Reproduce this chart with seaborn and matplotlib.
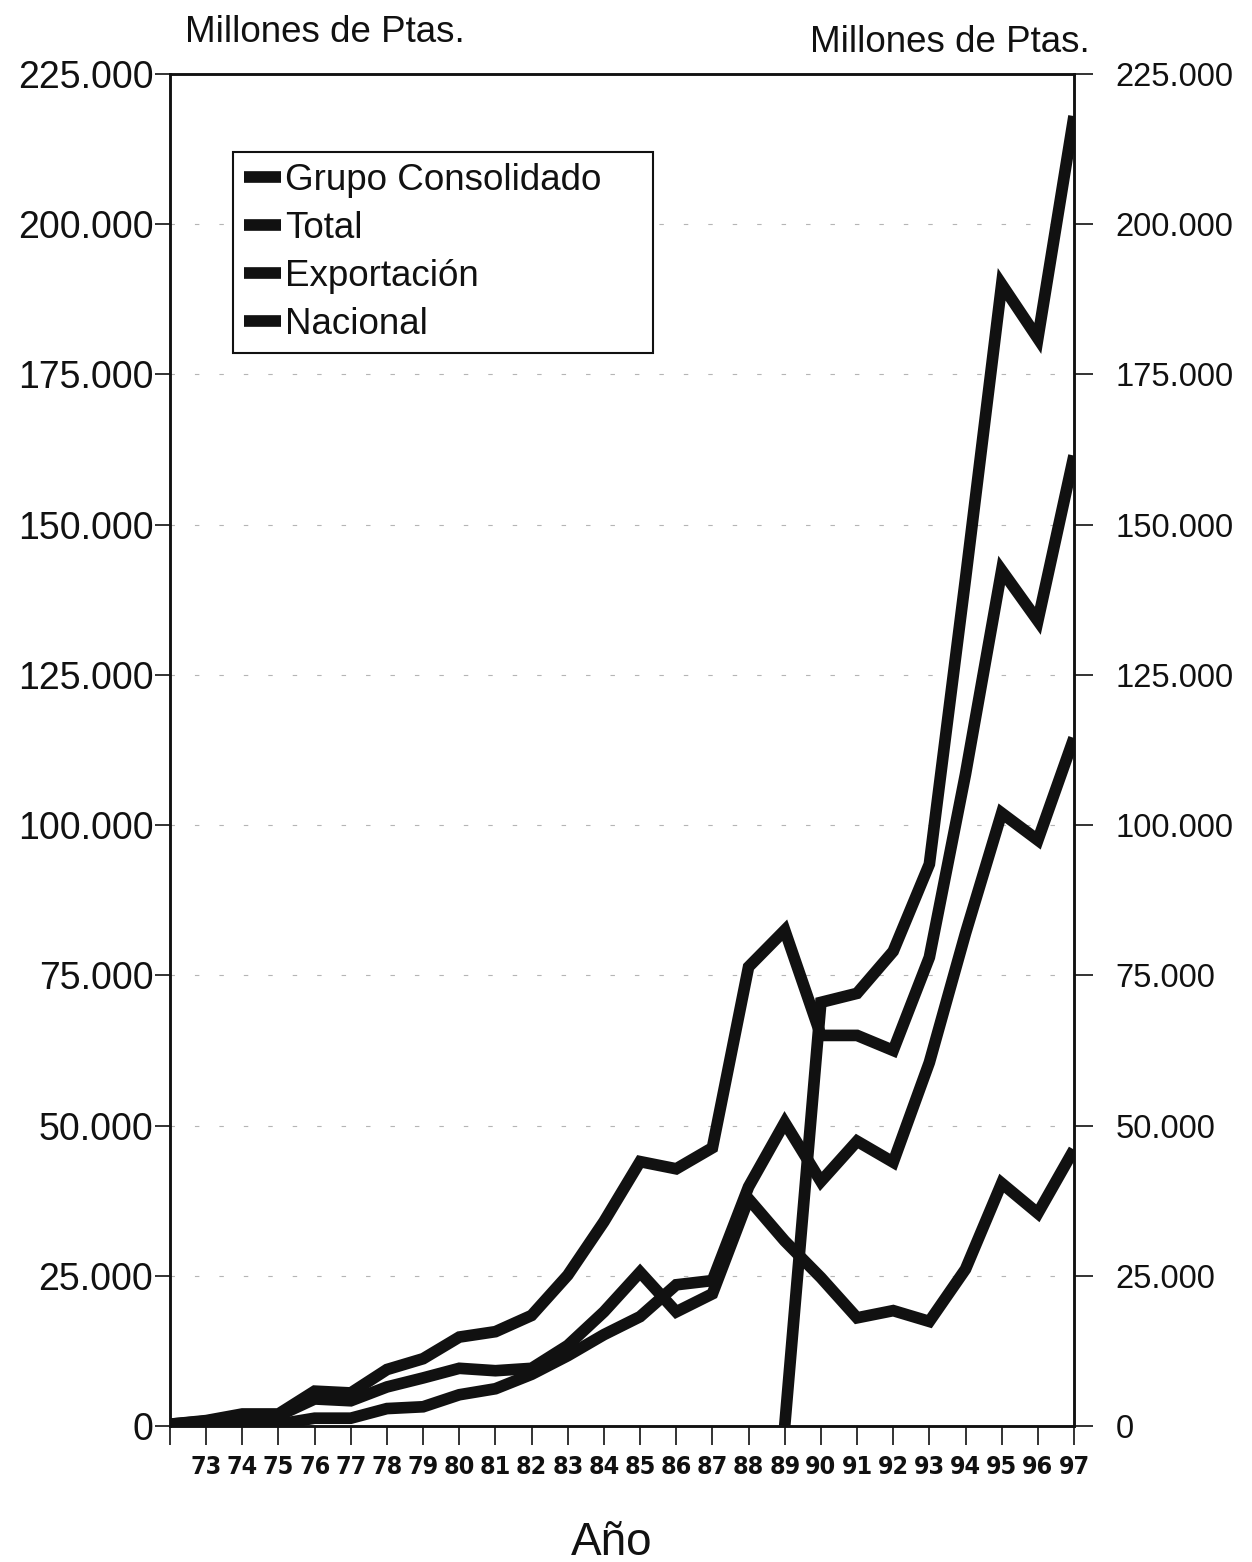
import numpy as np
import pandas as pd
import matplotlib
matplotlib.use("Agg")
import matplotlib.pyplot as plt
import seaborn as sns
from matplotlib import font_manager as fm
from matplotlib.ticker import FuncFormatter

# ---------------- data (millones de pesetas) ----------------
years = list(range(72, 98))
series_names = ["Grupo Consolidado", "Total", "Exportación", "Nacional"]

grupo = [np.nan] * 17 + [0, 70500, 72000, 79000, 93500, 141000, 190000, 181000, 218000]
total = [300, 900, 2000, 2000, 5800, 5500, 9400, 11200, 14800, 15700, 18400, 25100, 34000,
         44000, 42800, 46300, 76400, 82500, 65000, 65000, 62500, 78000, 108500, 142400,
         134000, 161500]
exportacion = [0, 100, 300, 300, 1300, 1300, 2900, 3200, 5200, 6200, 8600, 11700, 15200,
               18200, 23500, 24200, 39800, 50500, 40700, 47400, 43900, 60500, 82000, 102000,
               97500, 114500]
nacional = [300, 800, 1700, 1700, 4500, 4200, 6500, 8000, 9600, 9200, 9600, 13400, 19000,
            25600, 19000, 22000, 37800, 30800, 24700, 18000, 19200, 17400, 26100, 40400,
            35400, 46000]

y_ticks = list(range(0, 225001, 25000))
x_tick_labels = [""] + [str(y) for y in years[1:]]

# ---------------- style ----------------
ink = "#111111"
sns.set_theme(style="white")
plt.rcParams["font.family"] = ["Liberation Sans", "DejaVu Sans"]
plt.rcParams["text.color"] = ink

# condensed bold face for the year labels, if one is installed
xfont = dict(fontfamily="Liberation Sans", fontweight="bold", fontsize=19)
for f in fm.fontManager.ttflist:
    if f.name == "Liberation Sans Narrow" and f.weight in ("bold", 700):
        xfont = dict(fontfamily="Liberation Sans Narrow", fontweight="bold", fontsize=22)
        break
else:
    for f in fm.fontManager.ttflist:
        if f.name == "DejaVu Sans" and f.stretch == "condensed" and f.weight in ("bold", 700):
            xfont = dict(fontproperties=fm.FontProperties(fname=f.fname, size=18))
            break

df = pd.DataFrame({"Año": years * 4,
                   "valor": grupo + total + exportacion + nacional,
                   "serie": sum([[n] * len(years) for n in series_names], [])})

fig = plt.figure(figsize=(12.52, 15.62), dpi=100)
ax = fig.add_axes([170 / 1252, 1 - 1426 / 1562, (1074 - 170) / 1252, (1426 - 74) / 1562])

sns.lineplot(data=df, x="Año", y="valor", hue="serie", hue_order=series_names,
             palette=[ink] * 4, linewidth=8.4, estimator=None, sort=True, ax=ax,
             legend=True)
for ln in ax.lines:
    ln.set_solid_joinstyle("miter")
    ln.set_solid_capstyle("butt")

ax.set_xlim(72, 97)
ax.set_ylim(0, 225000)
ax.set_yticks(y_ticks)
fmt = FuncFormatter(lambda v, p: f"{int(v):,}".replace(",", "."))
ax.yaxis.set_major_formatter(fmt)
ax.set_xticks(years)
ax.set_xticklabels(x_tick_labels, **xfont)
ax.set_xlabel("")
ax.set_ylabel("")

ax.tick_params(axis="x", bottom=True, direction="out", length=14, width=1.2, pad=7,
               colors=ink)
ax.tick_params(axis="y", left=True, direction="out", length=11, width=1.2, pad=1,
               labelsize=27, colors=ink)

ax.set_axisbelow(True)
ax.yaxis.grid(True, linestyle=(0, (4, 18)), color="#b5b5b5", linewidth=0.8)
for s in ax.spines.values():
    s.set_visible(True)
    s.set_color(ink)
    s.set_linewidth(1.8)

ax2 = ax.twinx()
ax2.set_ylim(0, 225000)
ax2.set_yticks(y_ticks)
ax2.yaxis.set_major_formatter(fmt)
ax2.tick_params(axis="y", right=True, labelright=True, direction="out", length=14,
                width=1.2, pad=16, labelsize=23.5, colors=ink)
ax2.set_ylabel("")
ax2.grid(False)
for s in ax2.spines.values():
    s.set_color(ink)
    s.set_linewidth(1.8)

handles, labels = ax.get_legend_handles_labels()
leg = ax.legend(handles, labels, loc="upper left",
                bbox_to_anchor=((233 - 170) / 904, 1 - (152 - 74) / 1352, (653 - 233) / 904, 0),
                mode="expand", fontsize=26.5, handlelength=1.0, handletextpad=0.12,
                borderpad=0.3, labelspacing=0.35, borderaxespad=0, fancybox=False,
                framealpha=1, edgecolor=ink)
leg.get_frame().set_linewidth(1.5)
for t in leg.get_texts():
    t.set_color(ink)

fig.text(185 / 1252, 1 - 33 / 1562, "Millones de Ptas.", fontsize=26.5, ha="left",
         va="center", color=ink)
fig.text(810 / 1252, 1 - 42 / 1562, "Millones de Ptas.", fontsize=26.5, ha="left",
         va="center", color=ink)
fig.text(612 / 1252, 1 - 1543 / 1562, "Año", fontsize=33, ha="center", va="center",
         color=ink)

fig.savefig("out.png", dpi=100)
